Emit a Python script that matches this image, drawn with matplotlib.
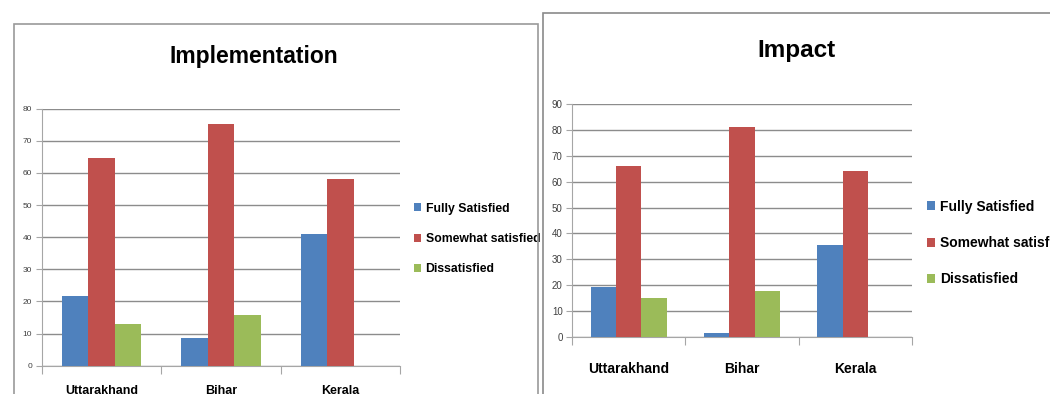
import matplotlib.pyplot as plt
import matplotlib.patches as mpatches
import numpy as np

# values
states = ['Uttarakhand', 'Bihar', 'Kerala']
series = ['Fully Satisfied', 'Somewhat satisfied', 'Dissatisfied']
impl_fully = [21.7, 8.5, 40.9]
impl_somewhat = [64.7, 75.3, 58.2]
impl_dissat = [13.1, 15.8, 0]
impact_fully = [19.1, 1.3, 35.4]
impact_somewhat = [66.0, 81.2, 64.3]
impact_dissat = [15.0, 17.7, 0]

colors = ['#4F81BD', '#C0504D', '#9BBB59']
plt.rcParams['font.family'] = ['Liberation Sans', 'DejaVu Sans']

fig = plt.figure(figsize=(10.5, 3.94), dpi=100)

# chart frames (like the Excel chart area borders)
fig.patches.append(mpatches.Rectangle((14 / 1050, -0.1), (538 - 14) / 1050, 1.1 - 24 / 394,
                                      transform=fig.transFigure, fill=False,
                                      edgecolor='#9a9a9a', linewidth=1.2))
fig.patches.append(mpatches.Rectangle((543 / 1050, -0.1), 0.6, 1.1 - 13 / 394,
                                      transform=fig.transFigure, fill=False,
                                      edgecolor='#8a8a8a', linewidth=1.2))


def draw(rect, data, ymax, title, title_xy, title_size, tick_size, cat_size, cat_pad,
         leg_anchor, leg_size, leg_spacing):
    ax = fig.add_axes(rect)
    x = np.arange(len(states))
    w = 0.222
    for i, vals in enumerate(data):
        ax.bar(x + (i - 1) * w, vals, width=w, color=colors[i], label=series[i],
               zorder=3, edgecolor='none')
    ax.set_xlim(-0.5, 2.5)
    ax.set_ylim(0, ymax)
    ax.set_yticks(np.arange(0, ymax + 1, 10))
    ax.grid(axis='y', color='#8c8c8c', linewidth=1.0, zorder=0)
    ax.set_axisbelow(True)
    for s in ['top', 'right']:
        ax.spines[s].set_visible(False)
    for s in ['left', 'bottom']:
        ax.spines[s].set_color('#a6a6a6')
    ax.set_xticks([-0.5, 0.5, 1.5, 2.5])
    ax.set_xticklabels([])
    ax.tick_params(axis='x', which='major', length=6, color='#a6a6a6')
    ax.set_xticks(x, minor=True)
    ax.set_xticklabels(states, minor=True, fontsize=cat_size, fontweight='bold')
    ax.tick_params(axis='x', which='minor', length=0, pad=cat_pad)
    ax.tick_params(axis='y', length=4, color='#a6a6a6', labelsize=tick_size,
                   labelcolor='#404040', pad=3)
    fig.text(title_xy[0], title_xy[1], title, ha='center', va='center',
             fontsize=title_size, fontweight='bold')
    ax.legend(loc='center left', bbox_to_anchor=leg_anchor, bbox_transform=fig.transFigure,
              frameon=False, prop={'size': leg_size, 'weight': 'bold'},
              handlelength=0.6, handleheight=0.6, handletextpad=0.35,
              labelspacing=leg_spacing, borderaxespad=0, borderpad=0)
    return ax


draw([42 / 1050, 1 - 365.7 / 394, 358 / 1050, 257 / 394],
     [impl_fully, impl_somewhat, impl_dissat], 80, 'Implementation',
     (254 / 1050, 1 - 57 / 394), 16.5, 6, 9, 14, (414 / 1050, 1 - 239 / 394), 8.8, 1.5)
draw([572.3 / 1050, 1 - 336.7 / 394, 339.4 / 1050, 232.4 / 394],
     [impact_fully, impact_somewhat, impact_dissat], 90, 'Impact',
     (796 / 1050, 1 - 50 / 394), 17.5, 7, 10, 18, (927 / 1050, 1 - 243 / 394), 10, 1.6)

fig.savefig('out.png', dpi=100)
